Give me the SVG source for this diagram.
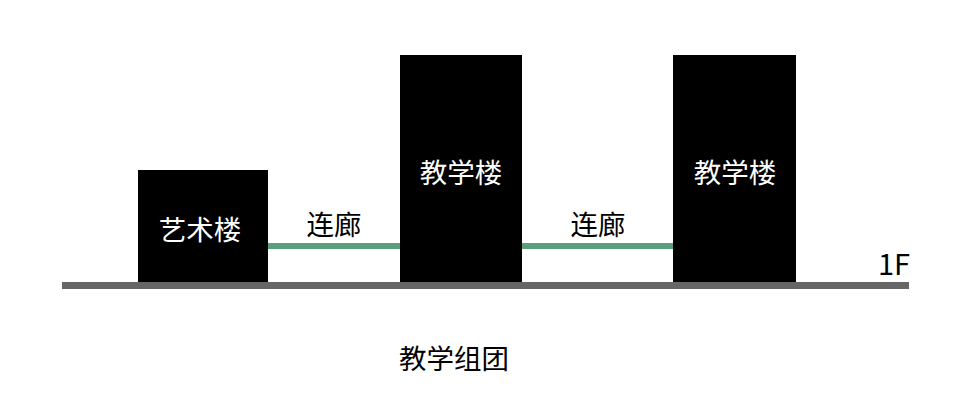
<svg xmlns="http://www.w3.org/2000/svg" width="968" height="414" viewBox="0 0 968 414">
<style>
.bld{fill:#000}
.lbl{font-family:"Noto Sans CJK SC","Noto Sans",sans-serif;font-size:27.5px;text-anchor:middle}
.w{fill:#fff}
.k{fill:#000}
.corr{stroke:#5a9e7c;stroke-width:6;fill:none}
.ground{fill:#666}
</style>
<rect width="968" height="414" fill="#fff"/>
<g id="connectors">
<line class="corr" x1="268" y1="246" x2="400" y2="246"/>
<line class="corr" x1="522" y1="246" x2="673" y2="246"/>
</g>
<g id="ground">
<rect class="ground" x="62" y="282" width="847" height="7"/>
<text class="lbl k" x="894" y="275" style="font-size:29px">1F</text>
</g>
<g id="art">
<rect class="bld" x="138" y="170" width="130" height="112"/>
<text class="lbl w" x="200" y="240">艺术楼</text>
</g>
<g id="teach1">
<rect class="bld" x="400" y="55" width="122" height="227"/>
<text class="lbl w" x="461" y="183">教学楼</text>
</g>
<g id="teach2">
<rect class="bld" x="673" y="55" width="123" height="227"/>
<text class="lbl w" x="735" y="183">教学楼</text>
</g>
<g id="corridor-labels">
<text class="lbl k" x="334" y="235">连廊</text>
<text class="lbl k" x="598" y="235">连廊</text>
</g>
<g id="caption">
<text class="lbl k" x="454" y="369">教学组团</text>
</g>
</svg>
